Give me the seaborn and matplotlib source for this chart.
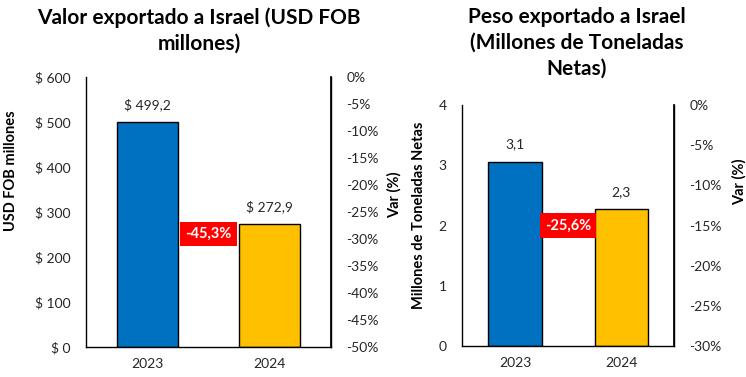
import matplotlib as mpl
mpl.use('Agg')
import matplotlib.pyplot as plt
import seaborn as sns
import pandas as pd
from matplotlib.ticker import FuncFormatter, MultipleLocator

# data
years = ['2023', '2024']
valor_usd = [499.2, 272.9]      # USD FOB millones
peso_ton = [3.06, 2.27]         # millones de toneladas netas
var_valor = -45.3
var_peso = -25.6

bar_colors = ['#0070C0', '#FFC000']
text_col = '#262626'

sns.set_theme(style='white')
plt.rcParams['font.family'] = ['Lato', 'DejaVu Sans']


def draw_panel(fig, rect, values, title, title_x, ylabel, ylab_pos, ymax, ystep, yfmt,
               vmin, var, var_y, var_lab_pos, lab_fmt):
    ax = fig.add_axes(rect)
    df = pd.DataFrame({'year': years, 'value': values})
    sns.barplot(data=df, x='year', y='value', hue='year', palette=bar_colors,
                saturation=1, edgecolor='black', linewidth=1, width=0.5,
                legend=False, ax=ax)
    ax.set_xlim(-0.5, 1.5)
    ax.set_ylim(0, ymax)
    ax.yaxis.set_major_locator(MultipleLocator(ystep))
    ax.yaxis.set_major_formatter(FuncFormatter(yfmt))
    ax.set_xlabel('')
    ax.set_ylabel(ylabel, fontsize=10.5, fontweight='bold', color='black')
    ax.yaxis.set_label_coords(*ylab_pos)
    ax.tick_params(axis='both', labelsize=10, colors=text_col, length=0)
    ax.tick_params(axis='x', pad=8)
    ax.tick_params(axis='y', pad=11)
    ax.spines['top'].set_visible(False)
    for s in ['left', 'bottom', 'right']:
        ax.spines[s].set_color('black')
        ax.spines[s].set_linewidth(1)
    for i, v in enumerate(values):
        ax.annotate(lab_fmt(v), (i, v), xytext=(0, 8), textcoords='offset points',
                    ha='center', va='bottom', fontsize=10, color=text_col)

    ax2 = ax.twinx()
    ax2.set_ylim(vmin, 0)
    ax2.yaxis.set_major_locator(MultipleLocator(5))
    ax2.yaxis.set_major_formatter(FuncFormatter(lambda v, p: f'{v:.0f}%'))
    ax2.tick_params(axis='y', labelsize=10, colors=text_col, length=0, pad=11)
    ax2.set_ylabel('Var (%)', fontsize=10.5, fontweight='bold', color='black')
    ax2.yaxis.set_label_coords(*var_lab_pos)
    for s in ['top', 'left', 'bottom']:
        ax2.spines[s].set_visible(False)
    ax2.spines['right'].set_color('black')

    ax.text(0.5, var_y, f'{var:.1f}%'.replace('.', ','), transform=ax.transAxes,
            ha='center', va='center', fontsize=10.5, fontweight='bold', color='white',
            bbox=dict(boxstyle='square,pad=0.35', facecolor='#FF0000', edgecolor='none'),
            zorder=5)
    fig.text(title_x, 1 - 7 / 377, title, ha='center', va='top',
             fontsize=15, fontweight='bold', color='black', linespacing=1.35)
    return ax


fig = plt.figure(figsize=(7.46, 3.77), dpi=100)

draw_panel(fig, [0.1153, 0.0796, 0.3284, 0.7162], valor_usd,
           'Valor exportado a Israel (USD FOB\nmillones)', 199 / 746, 'USD FOB millones',
           (-0.278, 0.652), 600, 100, lambda v, p: f'$ {v:.0f}', -50, var_valor,
           0.418, (1.229, 0.563), lambda v: f'$ {v:.1f}'.replace('.', ','))

draw_panel(fig, [0.6193, 0.0822, 0.2842, 0.6393], peso_ton,
           'Peso exportado a Israel\n(Millones de Toneladas\nNetas)', 577 / 746,
           'Millones de Toneladas Netas', (-0.170, 0.544),
           4, 1, lambda v, p: f'{v:.0f}', -30, var_peso, 0.5, (1.274, 0.68),
           lambda v: f'{v:.1f}'.replace('.', ','))

fig.savefig('out.png', dpi=100, facecolor='white')
